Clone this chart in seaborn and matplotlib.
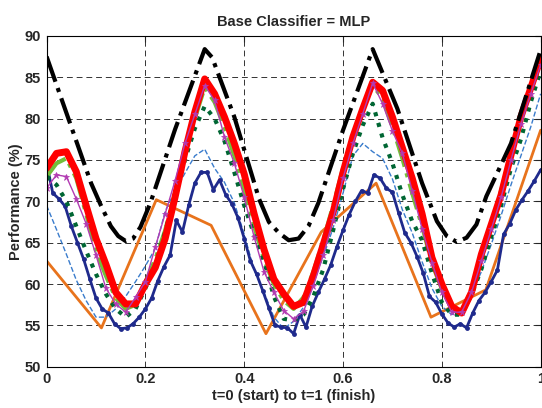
import numpy as np
import seaborn as sns
import matplotlib.pyplot as plt

# common time grid for the smooth series
t = np.linspace(0, 1, 51)
t_navy = np.linspace(0, 1, 81)

black_t = [0, 0.05, 0.09, 0.11, 0.13, 0.145, 0.16, 0.175, 0.19, 0.21, 0.26, 0.32, 0.335,
           0.38, 0.43, 0.45, 0.47, 0.49, 0.51, 0.53, 0.55, 0.60, 0.66, 0.71, 0.76, 0.79,
           0.81, 0.83, 0.85, 0.87, 0.89, 0.94, 1.0]
black = [87.5, 79.0, 72.2, 69.5, 67.0, 65.8, 65.2, 65.5, 66.9, 69.8, 78.7, 88.4, 87.4,
         80.2, 70.3, 67.5, 66.2, 65.3, 65.5, 67.0, 69.8, 78.6, 88.4, 81.2, 72.2, 67.6,
         65.8, 65.1, 65.6, 67.2, 70.6, 77.0, 88.3]

red = [74.0, 75.8, 76.0, 73.6, 69.5, 65.5, 62.4, 59.0, 57.6, 57.6,
       60.0, 62.0, 65.5, 70.5, 76.0, 80.8, 84.8, 83.0, 80.2, 77.0,
       73.3, 68.5, 64.2, 60.6, 58.8, 57.3, 57.8, 61.0, 64.8, 68.7,
       73.5, 77.8, 81.2, 84.4, 83.4, 80.2, 76.5, 72.8, 68.5, 63.2,
       60.0, 57.3, 56.5, 59.0, 63.6, 67.2, 70.8, 75.6, 80.2, 83.7, 87.3]

green = [73.0, 74.6, 75.2, 72.8, 68.5, 64.0, 61.0, 58.3, 57.0, 57.5,
         60.2, 63.0, 66.5, 71.0, 76.0, 80.0, 83.8, 82.0, 79.0, 75.5,
         71.5, 67.0, 63.0, 60.0, 58.0, 57.0, 58.4, 61.5, 65.3, 69.5,
         74.0, 78.0, 81.2, 84.0, 82.5, 79.0, 75.2, 71.0, 67.0, 62.5,
         59.4, 57.2, 56.8, 59.2, 63.5, 67.3, 71.3, 75.7, 80.0, 83.5, 86.5]

dotted = [73.0, 72.0, 70.0, 67.0, 64.0, 61.2, 58.8, 57.0, 56.0, 57.0,
          59.5, 62.3, 66.3, 70.8, 75.0, 78.8, 81.5, 80.0, 77.3, 73.5,
          69.5, 66.0, 62.8, 58.5, 55.8, 55.6, 56.3, 58.5, 61.8, 66.5,
          71.5, 75.8, 79.2, 81.8, 77.7, 74.6, 70.8, 67.6, 65.3, 61.3,
          57.8, 56.3, 56.3, 58.7, 61.8, 65.7, 69.5, 74.0, 77.5, 82.0, 85.8]

magenta = [71.6, 73.2, 73.0, 70.3, 67.3, 63.5, 59.5, 57.6, 56.6, 58.4,
           60.3, 64.5, 68.5, 72.5, 77.0, 80.5, 84.0, 82.2, 77.8, 74.6,
           70.5, 65.7, 61.5, 59.0, 56.8, 55.8, 56.7, 59.8, 63.5, 67.8,
           72.8, 77.0, 80.6, 84.3, 81.8, 78.5, 75.8, 71.3, 66.7, 62.6,
           59.0, 56.6, 56.6, 59.0, 62.8, 66.6, 70.5, 75.0, 79.3, 83.0, 86.5]

blue_dash = [69.5, 66.6, 63.6, 60.5, 58.0, 56.0, 56.0, 57.0, 58.5, 60.3,
             62.2, 64.3, 68.8, 71.3, 73.4, 75.5, 76.3, 74.0, 72.3, 69.8,
             66.0, 61.7, 59.0, 56.0, 54.6, 55.5, 57.2, 60.5, 63.3, 66.8,
             71.0, 75.5, 77.0, 76.0, 75.2, 72.7, 69.0, 66.2, 62.7, 59.5,
             57.3, 56.3, 57.0, 58.8, 61.5, 64.8, 68.3, 72.0, 75.5, 79.0, 83.0]

navy = [74.6, 71.0, 70.3, 69.4, 67.0, 65.0, 63.0, 60.6, 58.3, 57.0,
        56.5, 55.2, 54.6, 54.7, 55.2, 56.0, 57.0, 58.3, 60.4, 62.1,
        63.5, 67.7, 66.3, 69.5, 72.2, 73.5, 73.5, 71.4, 72.6, 70.8,
        69.7, 68.0, 65.5, 62.8, 61.2, 59.2, 57.1, 55.0, 54.8, 54.7,
        54.0, 56.3, 54.8, 57.3, 59.0, 60.6, 62.3, 64.5, 66.5, 68.4,
        70.0, 71.3, 71.0, 73.2, 72.8, 71.6, 71.1, 68.6, 66.2, 65.0,
        63.3, 61.3, 58.5, 57.8, 56.4, 55.3, 54.8, 55.2, 54.7, 56.5,
        58.0, 59.0, 60.3, 61.7, 66.0, 67.3, 69.0, 70.2, 71.3, 72.5, 73.8]

orange_t = [0, 0.111, 0.222, 0.333, 0.444, 0.556, 0.667, 0.778, 0.889, 1.0]
orange = [62.8, 54.7, 70.2, 67.1, 54.0, 66.3, 72.2, 56.0, 59.3, 78.6]

sns.set_style("white")
plt.rcParams['font.family'] = ['Liberation Sans', 'DejaVu Sans']
plt.rcParams['font.weight'] = 'bold'

fig = plt.figure(figsize=(5.42, 4.08), dpi=100)
ax = fig.add_axes([0.086, 0.101, 0.9115, 0.811])

sns.lineplot(x=orange_t, y=orange, ax=ax, color='#e8731c', linewidth=2)
sns.lineplot(x=t, y=blue_dash, ax=ax, color='#3a7ccc', linewidth=1, linestyle='--')
sns.lineplot(x=t_navy, y=navy, ax=ax, color='#1f2a8c', linewidth=2, marker='o',
             markersize=3.5, markeredgecolor='#1f2a8c', markeredgewidth=0)
sns.lineplot(x=t, y=green, ax=ax, color='#73bf3a', linewidth=3, linestyle='-.')
sns.lineplot(x=t, y=dotted, ax=ax, color='#006633', linewidth=3, linestyle=':')
sns.lineplot(x=t, y=red, ax=ax, color='#ff0000', linewidth=5)
sns.lineplot(x=t, y=magenta, ax=ax, color='#b23bb2', linewidth=1, marker='*',
             markersize=5, markeredgecolor='#b23bb2', markeredgewidth=0.5)
sns.lineplot(x=black_t, y=black, ax=ax, color='black', linewidth=3, linestyle='-.')

ax.set_xlim(0, 1)
ax.set_ylim(50, 90)
ax.set_xticks([0, 0.2, 0.4, 0.6, 0.8, 1.0])
ax.set_xticklabels(['0', '0.2', '0.4', '0.6', '0.8', '1'])
ax.set_yticks(range(50, 91, 5))
ax.grid(True, color='#333333', linestyle=(0, (6, 4)), linewidth=0.7)
ax.tick_params(direction='in', length=4, width=0.8, top=True, right=True,
               labelsize=10.5, pad=4)
for s in ax.spines.values():
    s.set_color('black')
    s.set_linewidth(0.8)

ax.set_title('Base Classifier = MLP', fontsize=10.5, fontweight='bold', pad=7)
ax.set_xlabel('t=0 (start) to t=1 (finish)', fontsize=10.5, fontweight='bold', labelpad=2)
ax.set_ylabel('Performance (%)', fontsize=10.5, fontweight='bold', labelpad=1)

plt.savefig('out.png', dpi=100)
